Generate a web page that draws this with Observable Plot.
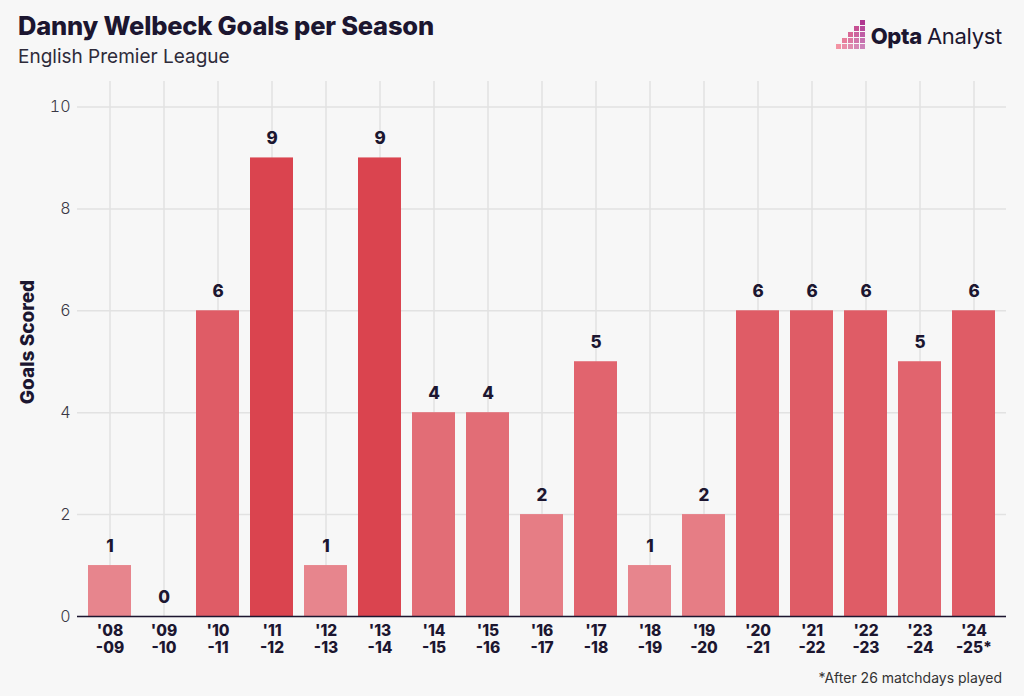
<!DOCTYPE html>
<html>
<head>
<meta charset="utf-8">
<script src="https://cdn.jsdelivr.net/npm/d3@7"></script>
<script src="https://cdn.jsdelivr.net/npm/@observablehq/plot@0.6"></script>
<style>
  html, body { margin: 0; padding: 0; background: #f7f7f7; }
  body { width: 1024px; height: 696px; position: relative; overflow: hidden; font-family: Inter, "Noto Sans", sans-serif; color: #1c1630; }
  #title { position: absolute; left: 18px; top: 10px; font-size: 25.5px; font-weight: 800; letter-spacing: -0.2px; color: #1c1630; }
  #subtitle { position: absolute; left: 18px; top: 45px; font-size: 19px; font-weight: 400; color: #2e2b3a; }
  #logo { position: absolute; right: 22px; top: 22px; font-size: 22px; color: #1c1630; display: flex; align-items: center; letter-spacing: -0.3px; }
  #logo b { font-weight: 800; margin-right: 5px; }
  #logo .grid { position: relative; width: 30px; height: 28px; margin-right: 5px; }
  #logo .grid span { position: absolute; width: 5px; height: 5px; }
  #chart { position: absolute; left: 0; top: 70px; }
  #caption { position: absolute; right: 22px; top: 669px; font-size: 14px; color: #333; }
</style>
</head>
<body>
<div id="title">Danny Welbeck Goals per Season</div>
<div id="subtitle">English Premier League</div>
<div id="logo"><div class="grid" id="grid"></div><b>Opta</b>Analyst</div>
<div id="chart"></div>
<div id="caption">*After 26 matchdays played</div>
<script>
const seasons = ["'08\n-09", "'09\n-10", "'10\n-11", "'11\n-12", "'12\n-13", "'13\n-14", "'14\n-15", "'15\n-16", "'16\n-17", "'17\n-18", "'18\n-19", "'19\n-20", "'20\n-21", "'21\n-22", "'22\n-23", "'23\n-24", "'24\n-25*"];
const goals = [1, 0, 6, 9, 1, 9, 4, 4, 2, 5, 1, 2, 6, 6, 6, 5, 6];
const yTicks = [0, 2, 4, 6, 8, 10];

const data = seasons.map((s, i) => ({season: s, goals: goals[i]}));

// logo pixel squares (decoration)
const cells = [[4,0],[4,1],[3,1],[3,2],[4,2],[2,2],[2,3],[3,3],[4,3],[1,3],[0,4],[1,4],[2,4],[3,4],[4,4]];
const g = document.getElementById("grid");
cells.forEach(([c, r]) => {
  const s = document.createElement("span");
  s.style.left = (c * 6) + "px";
  s.style.top = (r * 6 - 2) + "px";
  const t = c / 4;
  s.style.background = d3.interpolateRgb("#f0506a", "#a0309a")(t * 0.8);
  s.style.opacity = 0.6 + 0.4 * (4 - r) / 4;
  g.appendChild(s);
});

const chart = Plot.plot({
  width: 1024,
  height: 600,
  marginLeft: 77,
  marginRight: 18,
  marginTop: 11,
  marginBottom: 54,
  style: {background: "transparent", fontFamily: "Inter, 'Noto Sans', sans-serif", color: "#1c1630"},
  x: {domain: seasons, padding: 0.2, paddingOuter: 0.2, label: null},
  y: {domain: [0, 10.5], label: null},
  color: {type: "linear", domain: [0, 9], range: ["#e98d95", "#da444f"]},
  marks: [
    Plot.gridY(yTicks, {stroke: "#e2e2e2", strokeOpacity: 1, strokeWidth: 1.5}),
    Plot.gridX(seasons, {stroke: "#e2e2e2", strokeOpacity: 1, strokeWidth: 1.5}),
    Plot.barY(data, {x: "season", y: "goals", fill: "goals"}),
    Plot.ruleY([0], {stroke: "#1c1630", strokeWidth: 1.6}),
    Plot.text(data, {x: "season", y: "goals", text: d => String(d.goals), dy: -19, fontSize: 17, fontWeight: 800, fill: "#1c1630"}),
    Plot.axisY(yTicks, {tickSize: 0, tickPadding: 7, fontSize: 16, fontWeight: 300, fill: "#3a3845", tickFormat: d3.format("d"), label: null}),
    Plot.axisX({tickSize: 0, tickPadding: 7, fontSize: 15.5, fontWeight: 800, fill: "#1c1630", lineHeight: 1.12, label: null}),
    Plot.text(["Goals Scored"], {frameAnchor: "left", textAnchor: "middle", dx: -50, dy: -7, rotate: -90, fontSize: 19, fontWeight: 800, fill: "#1c1630"})
  ]
});
document.getElementById("chart").appendChild(chart);
</script>
</body>
</html>
